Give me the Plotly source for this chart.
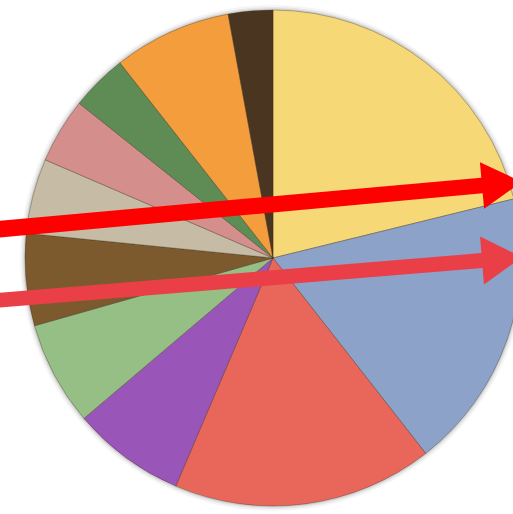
import math
import plotly.graph_objects as go

# slice shares (percent), clockwise from 12 o'clock
categories = ["A", "B", "C", "D", "E", "F", "G", "H", "I", "J", "K"]
values = [21.2, 18.3, 17.0, 7.4, 6.8, 6.0, 4.9, 4.25, 3.7, 7.7, 2.9]
colors = ["#F6D877", "#8CA2C9", "#E8675A", "#9A55B9", "#96BF86", "#7D5A2E",
          "#C6BBA4", "#D48E8B", "#5E8C54", "#F39D3C", "#4A3520"]

W, H = 530, 514
cx, cy, r = 273, 258, 248


def dom(rad):
    return dict(x=[(cx - rad) / W, (cx + rad) / W],
                y=[(H - cy - rad) / H, (H - cy + rad) / H])


fig = go.Figure()
# soft shadow behind the pie
for extra, alpha in [(5, 0.04), (3, 0.06), (1.5, 0.09)]:
    fig.add_trace(go.Pie(values=[1], sort=False, textinfo="none", hoverinfo="skip",
                         showlegend=False, marker=dict(colors=[f"rgba(0,0,0,{alpha})"],
                                                       line=dict(width=0)),
                         domain=dom(r + extra)))
fig.add_trace(go.Pie(
    labels=categories, values=values, sort=False, direction="clockwise",
    rotation=0, textinfo="none", hoverinfo="skip", showlegend=False,
    marker=dict(colors=colors, line=dict(color="rgba(60,45,30,0.35)", width=1)),
    domain=dom(r),
))


def arrow_path(x0, y0, x1, y1, half_shaft_l, half_shaft_r, half_head, head_len):
    dx, dy = x1 - x0, y1 - y0
    L = math.hypot(dx, dy)
    ux, uy = dx / L, dy / L
    nx, ny = -uy, ux
    pts = [
        (x0 + nx * half_shaft_l, y0 + ny * half_shaft_l),
        (x1 + nx * half_shaft_r, y1 + ny * half_shaft_r),
        (x1 + nx * half_head, y1 + ny * half_head),
        (x1 + ux * head_len, y1 + uy * head_len),
        (x1 - nx * half_head, y1 - ny * half_head),
        (x1 - nx * half_shaft_r, y1 - ny * half_shaft_r),
        (x0 - nx * half_shaft_l, y0 - ny * half_shaft_l),
    ]
    return "M " + " L ".join(f"{px / W:.5f},{(H - py) / H:.5f}" for px, py in pts) + " Z"


fig.add_shape(type="path", xref="paper", yref="paper",
              path=arrow_path(-5, 229.5, 482, 185.5, 8.3, 7.8, 23.3, 40),
              fillcolor="#FF0000", line=dict(width=0))
fig.add_shape(type="path", xref="paper", yref="paper",
              path=arrow_path(-5, 300.5, 482, 260.5, 7.4, 7.4, 24, 40),
              fillcolor="#EB3F47", line=dict(width=0))

fig.update_layout(width=W, height=H, margin=dict(l=0, r=0, t=0, b=0),
                  paper_bgcolor="white", plot_bgcolor="white")
fig.write_html("out.html")
